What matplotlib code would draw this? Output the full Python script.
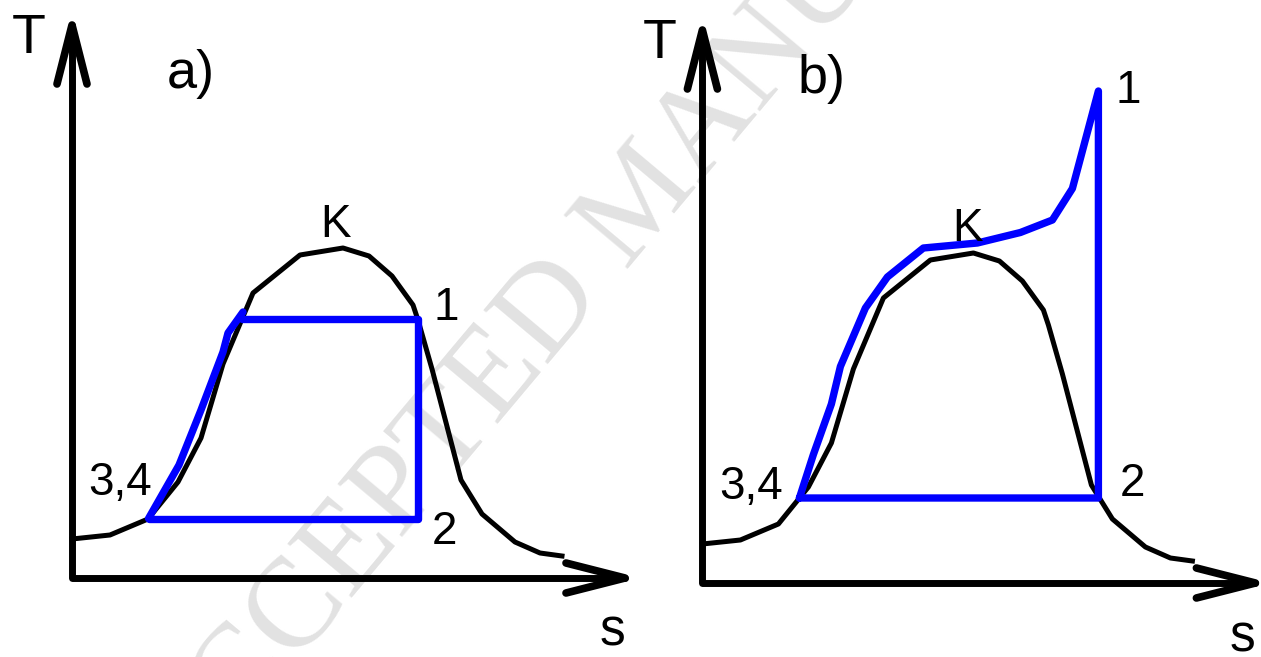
import matplotlib
matplotlib.use("Agg")
import matplotlib.pyplot as plt

# saturation dome (same fluid in both panels), s and T in arbitrary units
dome_s = [0.0, 3.8, 7.6, 10.6, 12.9, 15.1, 18.1, 22.8, 27.1, 29.7, 32.0, 34.1, 34.6,
          36.0, 38.9, 39.7, 41.0, 44.3, 46.8, 49.0]
dome_T = [3.9, 4.3, 5.9, 9.6, 14.0, 21.4, 28.5, 32.3, 33.0, 32.2, 30.2, 27.3, 25.8,
          20.9, 9.8, 8.5, 6.4, 3.6, 2.5, 2.2]

# a) saturated cycle
a_liq_s = [7.65, 10.7, 12.9, 15.1, 15.6, 17.1]
a_liq_T = [5.95, 11.3, 16.8, 22.6, 24.5, 26.6]
a_cyc_s = [17.0, 34.6, 34.6, 7.65]
a_cyc_T = [25.9, 25.9, 5.95, 5.95]

# b) supercritical cycle
b_cyc_s = [9.7, 11.1, 12.9, 13.8, 16.3, 18.5, 22.1, 27.5, 31.8, 35.0, 37.0, 39.6, 39.6, 9.7]
b_cyc_T = [8.5, 12.85, 17.9, 21.65, 27.5, 30.6, 33.5, 34.0, 35.05, 36.3, 39.45, 49.2, 8.5, 8.5]

# point labels: (text, s, T, ha)
a_labels = [("K", 26.3, 34.1, "center"), ("1", 37.4, 25.8, "center"),
            ("2", 37.2, 3.4, "center"), ("3,4", 1.6, 8.3, "left")]
b_labels = [("K", 26.5, 34.2, "center"), ("1", 42.6, 48.0, "center"),
            ("2", 43.0, 8.7, "center"), ("3,4", 1.7, 8.4, "left")]

axis_len = 55.3
head_len = 5.9
head_w = 1.5

BLUE = "#0000ff"


def draw_axes(ax, tag):
    ax.plot([0, 0, axis_len], [axis_len, 0, 0], color="k", lw=5,
            solid_capstyle="round", solid_joinstyle="round")
    ax.plot([-head_w, 0, head_w], [axis_len - head_len, axis_len, axis_len - head_len],
            color="k", lw=5.5, solid_capstyle="round", solid_joinstyle="round")
    ax.plot([axis_len - head_len, axis_len, axis_len - head_len], [head_w, 0, -head_w],
            color="k", lw=5.5, solid_capstyle="round", solid_joinstyle="round")
    ax.text(-4.3, 52.5, "T", fontsize=40, ha="center", va="baseline")
    ax.text(54.0, -6.8, "s", fontsize=37, ha="center", va="baseline")
    ax.text(9.5, 49.0, tag, fontsize=39, ha="left", va="baseline")


def main():
    plt.rcParams["font.family"] = ["Liberation Sans", "DejaVu Sans"]
    fig = plt.figure(figsize=(12.61, 6.57), dpi=100)
    fig.patch.set_facecolor("white")

    # faint diagonal watermark behind the drawing
    fig.text(0.511, 0.693, "ACCEPTED MANUSCRIPT", fontsize=92, color="#e2e2e2",
             family="Liberation Serif", rotation=50, rotation_mode="anchor",
             ha="center", va="center", zorder=-1)

    axa = fig.add_axes([0, 0, 630 / 1261, 1])
    axa.set_xlim(-7.2, 55.8)
    axa.set_ylim(-7.9, 57.8)
    axb = fig.add_axes([630 / 1261, 0, 631 / 1261, 1])
    axb.set_xlim(-7.24, 55.86)
    axb.set_ylim(-7.4, 58.3)

    for ax in (axa, axb):
        ax.axis("off")
        ax.plot(dome_s, dome_T, color="k", lw=3.6, solid_joinstyle="round")

    axa.plot(a_liq_s, a_liq_T, color=BLUE, lw=5.3, solid_capstyle="round")
    axa.plot(a_cyc_s, a_cyc_T, color=BLUE, lw=5.3, solid_capstyle="round",
             solid_joinstyle="round")
    axb.plot(b_cyc_s, b_cyc_T, color=BLUE, lw=5.3, solid_capstyle="round",
             solid_joinstyle="round")

    draw_axes(axa, "a)")
    draw_axes(axb, "b)")
    for ax, labels in ((axa, a_labels), (axb, b_labels)):
        for txt, s, T, ha in labels:
            ax.text(s, T, txt, fontsize=33, ha=ha, va="baseline")

    fig.savefig("out.png", dpi=100)


if __name__ == '__main__':
    main()
